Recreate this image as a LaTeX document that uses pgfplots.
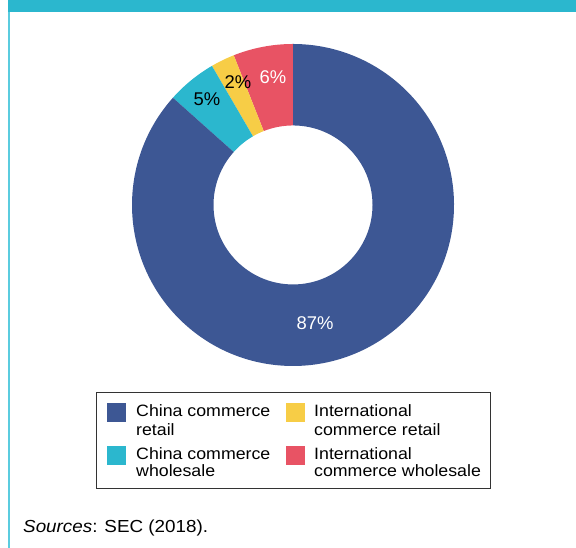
\documentclass[border=0pt]{standalone}
\usepackage{pgfplots}
\pgfplotsset{compat=1.18}
\usepackage{pgfplotstable}
\usepackage{fontspec}
\setmainfont{Liberation Sans}
\newfontfamily\legfont[FakeStretch=1.08]{Liberation Sans}

\definecolor{cblue}{HTML}{3D5794}
\definecolor{cteal}{HTML}{2BB7CE}
\definecolor{cyellow}{HTML}{F7CD46}
\definecolor{cred}{HTML}{E85364}
\definecolor{cline}{HTML}{5BCCDF}
\definecolor{cframe}{HTML}{333333}

% shares in percent, counter-clockwise from 12 o'clock
\pgfplotstableread{
name value color
IntlWholesale 6.0 cred
IntlRetail 2.4 cyellow
ChinaWholesale 5.0 cteal
ChinaRetail 86.6 cblue
}\piedata

\begin{document}
\begin{tikzpicture}[x=1bp,y=1bp]
\useasboundingbox (0,0) rectangle (576,548);
\fill[cteal] (8,535.5) rectangle (576,548);
\fill[cline] (8,0) rectangle (9.6,535.5);

% cumulative angles
\def\cum{90}
\foreach \i in {0,...,3}{
  \pgfplotstablegetelem{\i}{value}\of\piedata
  \pgfmathsetmacro\nxt{\cum+3.6*\pgfplotsretval}
  \expandafter\xdef\csname beg\i\endcsname{\cum}
  \expandafter\xdef\csname fin\i\endcsname{\nxt}
  \pgfplotstablegetelem{\i}{color}\of\piedata
  \expandafter\xdef\csname col\i\endcsname{\pgfplotsretval}
  \global\let\cum\nxt
}

\begin{axis}[
  at={(293bp,343bp)}, anchor=center,
  scale only axis, width=322bp, height=322bp,
  xmin=-1, xmax=1, ymin=-1, ymax=1,
  hide axis, clip=false,
]
\pgfplotsinvokeforeach{0,...,3}{
  \fill[\csname col#1\endcsname]
    (axis cs:{cos(\csname beg#1\endcsname)},{sin(\csname beg#1\endcsname)})
    arc[start angle=\csname beg#1\endcsname, end angle=\csname fin#1\endcsname, radius=161bp]
    -- (axis cs:{0.494*cos(\csname fin#1\endcsname)},{0.494*sin(\csname fin#1\endcsname)})
    arc[start angle=\csname fin#1\endcsname, end angle=\csname beg#1\endcsname, radius=79.5bp]
    -- cycle;
}
\begin{scope}[every node/.style={font=\fontsize{18.5}{20}\selectfont, inner sep=0}]
\node[white] at (axis cs:-0.124,0.795) {6\%};
\node[black] at (axis cs:-0.342,0.764) {2\%};
\node[black] at (axis cs:-0.534,0.655) {5\%};
\node[white] at (axis cs:0.137,-0.733) {87\%};
\end{scope}
\end{axis}

% legend
\begin{scope}[every node/.style={anchor=base west, inner sep=0, font=\legfont\fontsize{16.5}{18}\selectfont}]
\draw[line width=1bp, cframe] (96.7,155.7) rectangle (490,59);
\fill[cblue] (107.3,126.3) rectangle (126,144.7);
\node at (136,131) {China commerce};
\node at (136,112.5) {retail};
\fill[cyellow] (286,126.3) rectangle (305,144.7);
\node at (314,131) {International};
\node at (314,112.5) {commerce retail};
\fill[cteal] (107.3,83) rectangle (126,102);
\node at (136,88) {China commerce};
\node at (136,71) {wholesale};
\fill[cred] (286,83) rectangle (305,102);
\node at (314,88) {International};
\node at (314,71) {commerce wholesale};
\end{scope}

\node[anchor=base west, inner sep=0, font=\legfont\fontsize{17.5}{20}\selectfont] at (23,15) {\textit{Sources}: SEC (2018).};
\end{tikzpicture}
\end{document}
